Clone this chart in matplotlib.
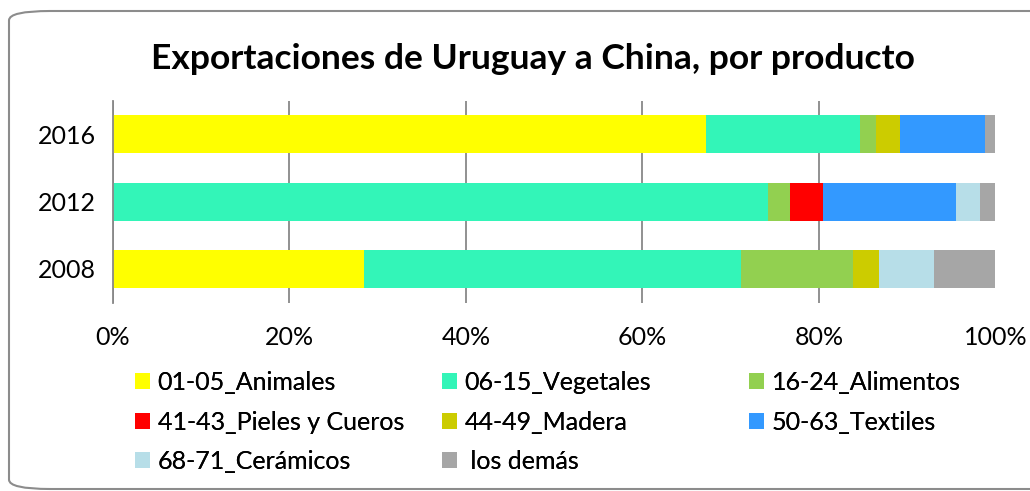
import matplotlib
matplotlib.use("Agg")
import matplotlib.pyplot as plt
from matplotlib.patches import FancyBboxPatch

# ---------- Datos ----------
anios = ["2008", "2012", "2016"]
series = ["01-05_Animales", "06-15_Vegetales", "16-24_Alimentos",
          "41-43_Pieles y Cueros", "44-49_Madera", "50-63_Textiles",
          "68-71_Cerámicos", " los demás"]
colores = ["#FFFF00", "#33F5B8", "#92D050", "#FF0000",
           "#CCCC00", "#3399FF", "#B7DEE8", "#A6A6A6"]

animales = [28.5, 0.0, 67.2]
vegetales = [42.7, 74.2, 17.4]
alimentos = [12.7, 2.5, 1.9]
pieles = [0.0, 3.8, 0.0]
madera = [2.9, 0.0, 2.7]
textiles = [0.0, 15.0, 9.6]
ceramicos = [6.2, 2.7, 0.0]
demas = [7.0, 1.8, 1.2]
valores = [animales, vegetales, alimentos, pieles, madera, textiles, ceramicos, demas]

ticks_x = [0, 20, 40, 60, 80, 100]
ticks_lbl = ["0%", "20%", "40%", "60%", "80%", "100%"]

W, H = 1030, 491
FUENTE = "Lato"
plt.rcParams["font.family"] = [FUENTE, "DejaVu Sans"]

fig = plt.figure(figsize=(W / 100, H / 100), dpi=100)

# marco redondeado
marco = FancyBboxPatch((9 / W, 2 / H), 1.2, (478) / H,
                       boxstyle="round,pad=0,rounding_size=0.04",
                       transform=fig.transFigure, fill=False,
                       edgecolor="#8C8C8C", linewidth=1.5, mutation_aspect=H / W)
fig.patches.append(marco)

izq, der, arr, aba = 112.7, 995.5, 100.7, 302.5
ax = fig.add_axes([izq / W, 1 - aba / H, (der - izq) / W, (aba - arr) / H])

pos = list(range(len(anios)))
base = [0.0] * len(anios)
handles = []
for nombre, col, vals in zip(series, colores, valores):
    b = ax.barh(pos, vals, left=base, height=0.565, color=col,
                edgecolor="none", label=nombre, zorder=2)
    handles.append(b)
    base = [a + v for a, v in zip(base, vals)]

ax.set_xlim(0, 100)
ax.set_ylim(-0.5, len(anios) - 0.5)
ax.set_yticks(pos)
ax.set_yticklabels(anios)
ax.set_xticks(ticks_x)
ax.set_xticklabels(ticks_lbl)
ax.tick_params(axis="both", length=0, labelsize=18, colors="black")
ax.tick_params(axis="x", pad=17)
ax.tick_params(axis="y", pad=12)
ax.grid(axis="x", color="#888888", linewidth=1.3, zorder=0)
for s in ["top", "right", "bottom"]:
    ax.spines[s].set_visible(False)
ax.spines["left"].set_color("#888888")
ax.spines["left"].set_linewidth(1.3)

fig.text(533 / W, 1 - 59 / H, "Exportaciones de Uruguay a China, por producto",
         ha="center", va="center", fontsize=25.5, fontweight="bold")

# leyenda en 3 columnas (orden por filas)
cols_x = [135, 442, 749]
for c in range(3):
    idx = [i for i in range(c, len(series), 3)]
    lg = fig.legend([handles[i] for i in idx], [series[i] for i in idx],
                    loc="upper left", bbox_to_anchor=(cols_x[c] / W, 1 - 371 / H),
                    frameon=False, fontsize=18, handlelength=0.6,
                    handleheight=0.6, handletextpad=0.3, labelspacing=0.66,
                    borderpad=0, borderaxespad=0)
    fig.add_artist(lg)

fig.savefig("out.png", dpi=100)
